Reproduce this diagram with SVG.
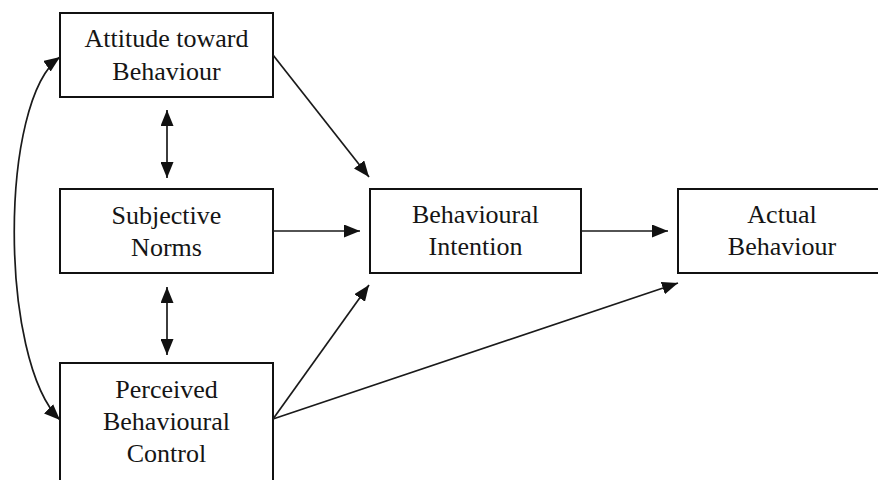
<svg xmlns="http://www.w3.org/2000/svg" width="878" height="480" viewBox="0 0 878 480">
  <style>
    .box { fill: #ffffff; stroke: #111111; stroke-width: 2; }
    .lbl { font-size: 26px; fill: #151515; text-anchor: middle; }
    .conn { fill: none; stroke: #1a1a1a; stroke-width: 1.7; }
  </style>
  <defs>
    <marker id="head" viewBox="0 0 16 13" refX="16" refY="6.5" markerWidth="16" markerHeight="13" markerUnits="userSpaceOnUse" orient="auto-start-reverse">
      <path d="M0,0 L16,6.5 L0,13 z" fill="#111111"/>
    </marker>
  </defs>
  <rect width="878" height="480" fill="#ffffff"/>

  <g font-family="'Liberation Serif', 'DejaVu Serif', serif">
    <g id="attitude">
      <rect class="box" x="60" y="13" width="213" height="84"/>
      <text class="lbl" x="166.5" y="47">Attitude toward</text>
      <text class="lbl" x="166.5" y="80">Behaviour</text>
    </g>

    <g id="subjective-norms">
      <rect class="box" x="60" y="189" width="213" height="84"/>
      <text class="lbl" x="166.5" y="224">Subjective</text>
      <text class="lbl" x="166.5" y="256">Norms</text>
    </g>

    <g id="perceived-control">
      <rect class="box" x="60" y="363" width="213" height="130"/>
      <text class="lbl" x="166.5" y="398">Perceived</text>
      <text class="lbl" x="166.5" y="430">Behavioural</text>
      <text class="lbl" x="166.5" y="462">Control</text>
    </g>

    <g id="intention">
      <rect class="box" x="370" y="189" width="211" height="84"/>
      <text class="lbl" x="475.5" y="223">Behavioural</text>
      <text class="lbl" x="475.5" y="255">Intention</text>
    </g>

    <g id="actual-behaviour">
      <rect class="box" x="678" y="189" width="212" height="84"/>
      <text class="lbl" x="782" y="223">Actual</text>
      <text class="lbl" x="782" y="255">Behaviour</text>
    </g>
  </g>

  <g id="connectors">
    <!-- correlations -->
    <line class="conn" x1="167" y1="110" x2="167" y2="178" marker-start="url(#head)" marker-end="url(#head)"/>
    <line class="conn" x1="167" y1="287" x2="167" y2="355" marker-start="url(#head)" marker-end="url(#head)"/>
    <path class="conn" d="M60,57 C-1,100 -1,360 60,420" marker-start="url(#head)" marker-end="url(#head)"/>
    <!-- predictors of intention -->
    <line class="conn" x1="273" y1="55" x2="369" y2="177" marker-end="url(#head)"/>
    <line class="conn" x1="273" y1="231" x2="360" y2="231" marker-end="url(#head)"/>
    <line class="conn" x1="273" y1="419" x2="369" y2="285" marker-end="url(#head)"/>
    <!-- predictors of behaviour -->
    <line class="conn" x1="581" y1="231" x2="668" y2="231" marker-end="url(#head)"/>
    <line class="conn" x1="273" y1="419" x2="678" y2="283" marker-end="url(#head)"/>
  </g>
</svg>
